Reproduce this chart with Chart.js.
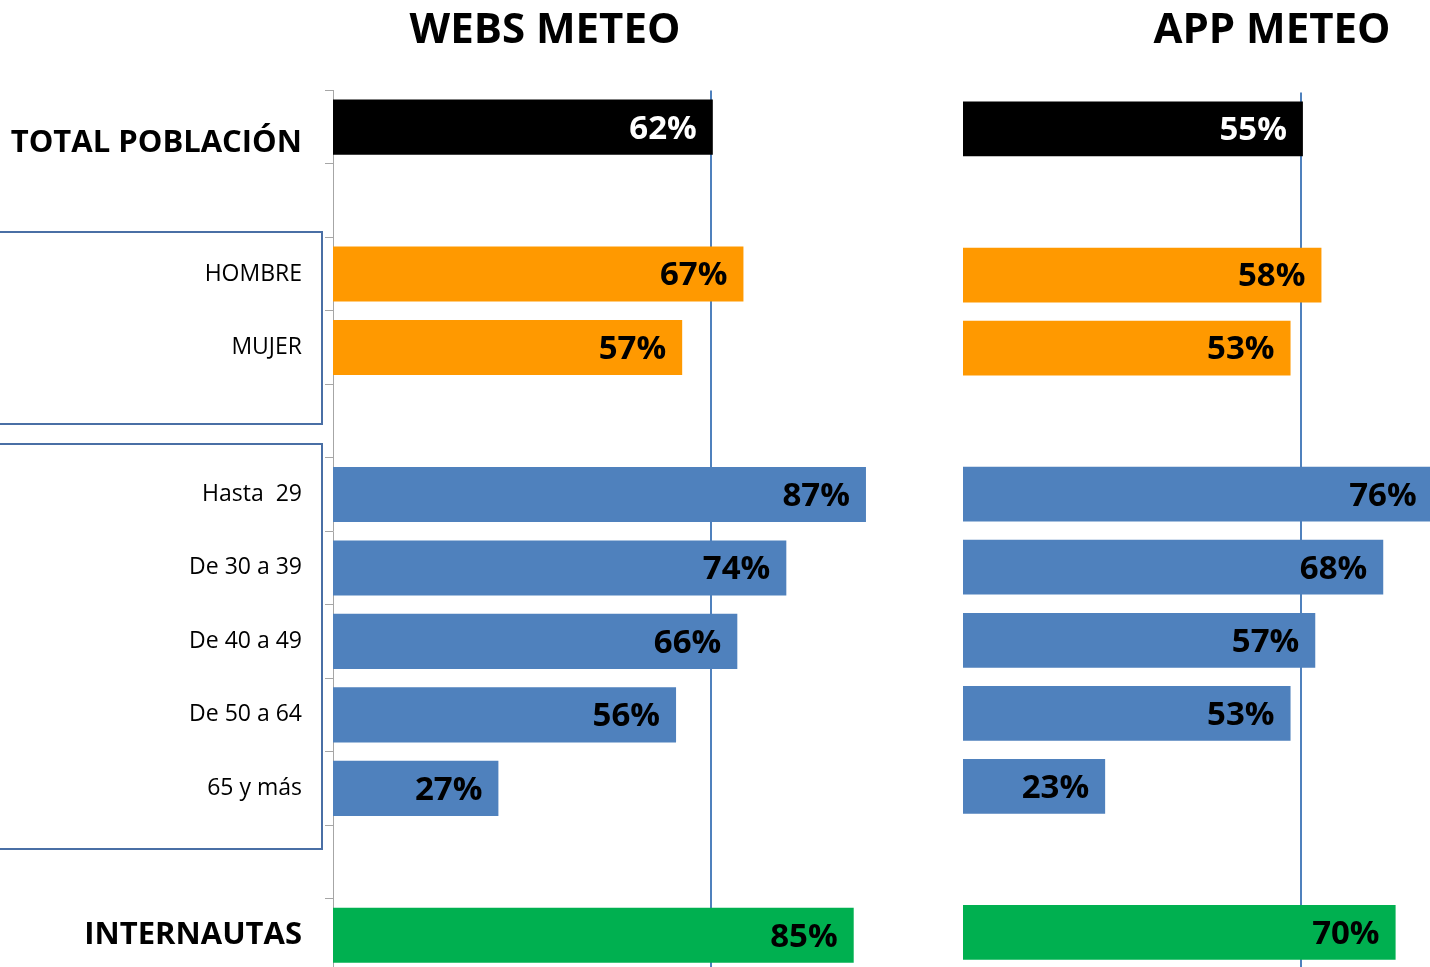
<!DOCTYPE html>
<html lang="es">
<head>
<meta charset="utf-8">
<title>Webs meteo / App meteo</title>
<script src="https://cdn.jsdelivr.net/npm/chart.js@4.4.1/dist/chart.umd.min.js"></script>
<style>
    html, body { margin: 0; padding: 0; background: #fff; width: 1430px; height: 967px; overflow: hidden; }
    .wrap { position: absolute; top: 0; }
    #webWrap { left: 0; width: 1090px; height: 972px; }
    #appWrap { left: 963px; width: 618px; height: 969px; }
</style>
</head>
<body>
<div class="wrap" id="webWrap"><canvas id="webChart"></canvas></div>
<div class="wrap" id="appWrap"><canvas id="appChart"></canvas></div>
<script>
// Categorías (filas vacías = separadores)
const categories = ['TOTAL POBLACIÓN', '', 'HOMBRE', 'MUJER', '', 'Hasta  29', 'De 30 a 39', 'De 40 a 49', 'De 50 a 64', '65 y más', '', 'INTERNAUTAS'];

// Valores (%)
const websMeteo = [62, null, 67, 57, null, 87, 74, 66, 56, 27, null, 85];
const appMeteo = [55, null, 58, 53, null, 76, 68, 57, 53, 23, null, 70];

// Colores por fila
const barColors = ['#000000', null, '#FF9900', '#FF9900', null, '#4F81BD', '#4F81BD', '#4F81BD', '#4F81BD', '#4F81BD', null, '#00B050'];
const labelColors = ['#FFFFFF', null, '#000', '#000', null, '#000', '#000', '#000', '#000', '#000', null, '#000'];

const FONT = "'Open Sans', sans-serif";

// Etiquetas de valor dentro de la barra
const valueLabels = {
    id: 'valueLabels',
    afterDatasetsDraw(chart) {
        const ctx = chart.ctx;
        const meta = chart.getDatasetMeta(0);
        const data = chart.data.datasets[0].data;
        ctx.save();
        ctx.font = 'bold 33px ' + FONT;
        ctx.textAlign = 'right';
        ctx.textBaseline = 'middle';
        meta.data.forEach(function(bar, i) {
            if (data[i] === null) return;
            ctx.fillStyle = labelColors[i];
            ctx.fillText(data[i] + '%', bar.x - 16, bar.y + 2);
        });
        ctx.restore();
    }
};

// Línea vertical en el valor del total
const totalLine = {
    id: 'totalLine',
    beforeDatasetsDraw(chart) {
        const ctx = chart.ctx;
        const x = Math.round(chart.scales.x.getPixelForValue(chart.data.datasets[0].data[0]) - 2);
        ctx.save();
        ctx.strokeStyle = '#4F81BD';
        ctx.lineWidth = 2;
        ctx.beginPath();
        ctx.moveTo(x, chart.chartArea.top);
        ctx.lineTo(x, chart.chartArea.bottom);
        ctx.stroke();
        ctx.restore();
    }
};

// Recuadros de los grupos (sexo / edad)
const groupBoxes = {
    id: 'groupBoxes',
    afterDraw(chart) {
        const y = chart.scales.y;
        const ctx = chart.ctx;
        const slot = y.getPixelForValue(1) - y.getPixelForValue(0);
        const right = chart.chartArea.left - 11;
        const boxes = [
            [y.getPixelForValue(2) - 0.57 * slot, y.getPixelForValue(3) + 1.05 * slot],
            [y.getPixelForValue(5) - 0.69 * slot, y.getPixelForValue(9) + 0.82 * slot]
        ];
        ctx.save();
        ctx.strokeStyle = '#4A6FA5';
        ctx.lineWidth = 2;
        boxes.forEach(function(b) {
            ctx.strokeRect(-2, Math.round(b[0]), right + 2, Math.round(b[1] - b[0]));
        });
        ctx.restore();
    }
};

function makeOptions(title, xMax, showY) {
    return {
        indexAxis: 'y',
        responsive: true,
        maintainAspectRatio: false,
        animation: false,
        layout: { padding: 0 },
        plugins: {
            legend: { display: false },
            tooltip: { enabled: false },
            title: {
                display: true,
                text: title,
                color: '#000',
                font: { family: FONT, size: 42, weight: 'bold', lineHeight: 1.2 },
                padding: { top: 6, bottom: showY ? 34 : 36 }
            }
        },
        scales: {
            x: { display: false, min: 0, max: xMax },
            y: {
                display: showY,
                afterFit: function(scale) {
                    if (!showY) return;
                    scale.width = 333;
                    scale.paddingTop = 0;
                    scale.paddingBottom = 0;
                },
                grid: {
                    drawOnChartArea: false,
                    drawTicks: true,
                    tickLength: 8,
                    color: '#A6A6A6',
                    offset: true
                },
                border: { display: true, color: '#A6A6A6', width: 1 },
                ticks: {
                    color: '#000',
                    padding: 23,
                    autoSkip: false,
                    callback: function(value, index) {
                        // la etiqueta del total va algo más baja
                        return index === 0 ? ['', categories[index]] : categories[index];
                    },
                    font: function(ctx) {
                        const i = ctx.index;
                        if (i === 0 || i === 11) return { family: FONT, size: 31, weight: 'bold', lineHeight: 1.03 };
                        return { family: FONT, size: 23, weight: 'normal' };
                    }
                }
            }
        }
    };
}

function makeData(values) {
    return {
        labels: categories,
        datasets: [{
            data: values,
            backgroundColor: barColors,
            borderWidth: 0,
            categoryPercentage: 1,
            barPercentage: 0.75
        }]
    };
}

document.addEventListener('DOMContentLoaded', function() {
    new Chart(document.getElementById('webChart'), {
        type: 'bar',
        data: makeData(websMeteo),
        options: makeOptions('WEBS METEO', (1090 - 333) / 6.126, true),
        plugins: [totalLine, valueLabels, groupBoxes]
    });

    new Chart(document.getElementById('appChart'), {
        type: 'bar',
        data: makeData(appMeteo),
        options: makeOptions('APP METEO', 100, false),
        plugins: [totalLine, valueLabels]
    });
});
</script>
</body>
</html>
